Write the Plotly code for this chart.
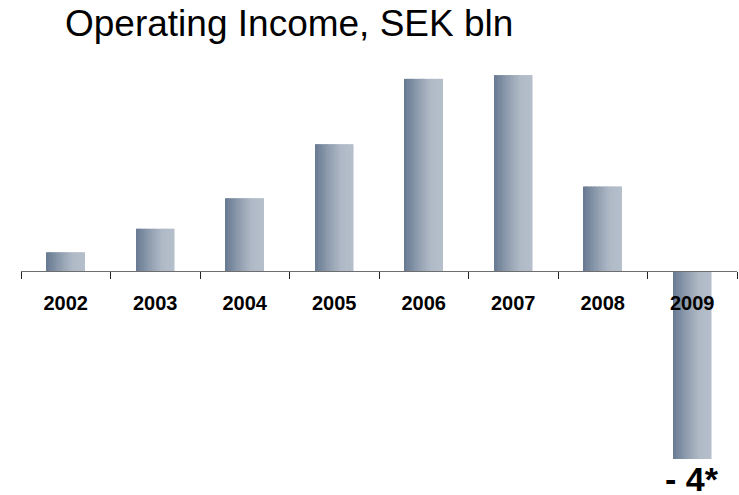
import plotly.graph_objects as go

years = ["2002", "2003", "2004", "2005", "2006", "2007", "2008", "2009"]
income = [0.40, 0.90, 1.55, 2.70, 4.09, 4.17, 1.80, -4.0]
label_2009 = "- 4*"
title_text = "Operating Income, SEK bln"

y_min, y_max = -4.0, 4.3
bar_width = 0.425
n_slices = 24

# gradient stops (fraction across bar, rgb)
stops = [(0.0, (102, 121, 145)), (0.35, (142, 156, 174)), (0.7, (176, 186, 199)), (1.0, (181, 191, 203))]


def grad_color(t):
    for (t0, c0), (t1, c1) in zip(stops[:-1], stops[1:]):
        if t0 <= t <= t1:
            f = (t - t0) / (t1 - t0)
            return "rgb(%d,%d,%d)" % tuple(round(a + (b - a) * f) for a, b in zip(c0, c1))
    return "rgb(%d,%d,%d)" % stops[-1][1]


fig = go.Figure()
sw = bar_width / n_slices
for k in range(n_slices):
    t = (k + 0.5) / n_slices
    fig.add_trace(go.Bar(
        x=years, y=income,
        width=sw * 1.15,
        offset=-bar_width / 2 + k * sw,
        marker=dict(color=grad_color(t), line=dict(width=0)),
        showlegend=False, hoverinfo="skip",
    ))

# annotation for the last bar (category index of 2009)
fig.add_annotation(
    x=years.index("2009"), xref="x",
    y=(income[-1] - y_min) / (y_max - y_min), yref="paper",
    text="<b>%s</b>" % label_2009,
    showarrow=False, yanchor="top", xanchor="center", yshift=0, borderpad=0,
    font=dict(family="Liberation Sans, Arial, sans-serif", size=34, color="black"),
)

fig.update_layout(
    width=739, height=495,
    margin=dict(l=21, r=2, t=69, b=36),
    paper_bgcolor="white", plot_bgcolor="white",
    barmode="overlay",
    title=dict(
        text=title_text, x=65 / 739, xref="container", xanchor="left",
        y=1 - 10 / 495, yref="container", yanchor="top",
        font=dict(family="Liberation Sans, Arial, sans-serif", size=37, color="black"),
    ),
    xaxis=dict(
        type="category", categoryorder="array", categoryarray=years,
        range=[-0.5, len(years) - 0.5], autorange=False,
        anchor="free",
        position=(0 - y_min) / (y_max - y_min),
        showline=True, linecolor="#6e6e6e", linewidth=1,
        ticks="outside", tickson="boundaries", ticklen=7, tickcolor="#222222", tickwidth=1,
        showgrid=False, zeroline=False, tickangle=0,
        tickfont=dict(family="Liberation Sans, Arial, sans-serif", size=20, color="black", weight="bold"),
        ticklabelstandoff=14,
    ),
    yaxis=dict(range=[y_min, y_max], visible=False, showgrid=False, zeroline=False),
)

fig.write_html(
    "out.html",
    config={"displayModeBar": False},
    post_script="document.body.style.margin='0';document.body.style.padding='0';",
)
